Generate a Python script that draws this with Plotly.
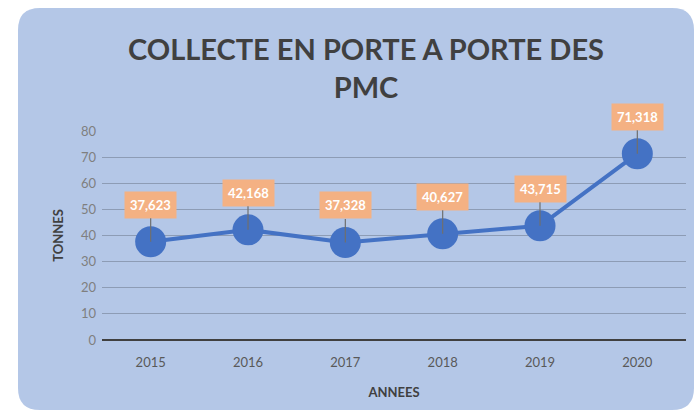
import plotly.graph_objects as go

years = ["2015", "2016", "2017", "2018", "2019", "2020"]
tonnes = [37.623, 42.168, 37.328, 40.627, 43.715, 71.318]
labels = ["37,623", "42,168", "37,328", "40,627", "43,715", "71,318"]
y_ticks = [0, 10, 20, 30, 40, 50, 60, 70, 80]

W, H = 694, 412
L, R, T, B = 102, 8, 131, 72
pw, ph = W - L - R, H - T - B

def px(x):
    return (x - L) / pw

def py(y):
    return (H - B - y) / ph

# rounded card path in paper coords
x0, y0, x1, y1, r = 18, 8, 694, 410, 22
def P(x, y):
    return f"{px(x):.5f},{py(y):.5f}"
card = (f"M {P(x0 + r, y0)} L {P(x1 - r, y0)} Q {P(x1, y0)} {P(x1, y0 + r)} "
        f"L {P(x1, y1 - r)} Q {P(x1, y1)} {P(x1 - r, y1)} "
        f"L {P(x0 + r, y1)} Q {P(x0, y1)} {P(x0, y1 - r)} "
        f"L {P(x0, y0 + r)} Q {P(x0, y0)} {P(x0 + r, y0)} Z")

fig = go.Figure()
fig.add_trace(go.Scatter(
    x=years, y=tonnes, mode="lines+markers",
    line=dict(color="#4472C4", width=4),
    marker=dict(size=31, color="#4472C4"),
    showlegend=False, hoverinfo="x+y",
))

for i, (y, t) in enumerate(zip(tonnes, labels)):
    fig.add_annotation(
        x=i, y=y, text=f"<b>{t}</b>", showarrow=True, arrowhead=0,
        arrowwidth=1.2, arrowcolor="#6F6F6F", ax=0, ay=-37,
        font=dict(color="white", size=13, family="Lato"),
        bgcolor="#F4B183", borderpad=5, standoff=0,
    )

fig.update_layout(
    width=W, height=H,
    margin=dict(l=L, r=R, t=T, b=B),
    paper_bgcolor="white",
    plot_bgcolor="rgba(0,0,0,0)",
    font=dict(family="Lato", color="#595959"),
    shapes=[dict(type="path", path=card, xref="paper", yref="paper",
                 fillcolor="#B4C7E7", line=dict(width=0), layer="below")],
    title=dict(
        text="<b>COLLECTE EN PORTE A PORTE DES<br>PMC</b>",
        xref="container", yref="container",
        x=366 / W, y=1 - 60 / H, xanchor="center", yanchor="middle",
        font=dict(size=29, color="#404040", family="Lato"),
    ),
    xaxis=dict(
        type="category", range=[-0.5, 5.5], showgrid=False,
        tickfont=dict(size=13, color="#595959"), ticklabelstandoff=13,
        title=dict(text="<b>ANNEES</b>", font=dict(size=13, color="#404040"), standoff=18),
        ticks="", showline=False,
    ),
    yaxis=dict(
        range=[0, 80], tickvals=y_ticks,
        gridcolor="rgba(110,120,140,0.55)", gridwidth=1,
        zeroline=True, zerolinecolor="#404040", zerolinewidth=2,
        tickfont=dict(size=13, color="#7F7F7F"), ticklabelstandoff=5,
        title=dict(text="<b>TONNES</b>", font=dict(size=13, color="#404040"), standoff=14),
        ticks="", showline=False,
    ),
)

fig.write_html("out.html", config={"displayModeBar": False},
               post_script="document.body.style.margin='0';")
